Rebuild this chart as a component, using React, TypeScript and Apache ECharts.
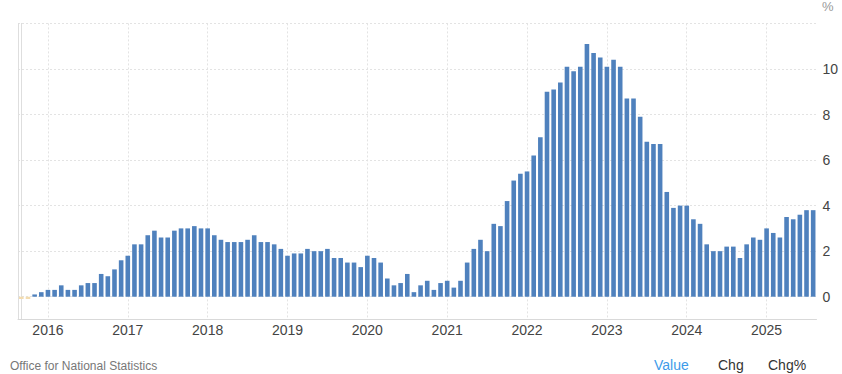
import React, { useEffect, useRef } from "react";
import * as echarts from "echarts";

// Monthly UK CPI inflation (%), Sep 2015 .. Aug 2025
const startYear = 2015;
const startMonth = 9; // September
const values2015 = [-0.1, -0.1, 0.1, 0.2];
const values2016 = [0.3, 0.3, 0.5, 0.3, 0.3, 0.5, 0.6, 0.6, 1.0, 0.9, 1.2, 1.6];
const values2017 = [1.8, 2.3, 2.3, 2.7, 2.9, 2.6, 2.6, 2.9, 3.0, 3.0, 3.1, 3.0];
const values2018 = [3.0, 2.7, 2.5, 2.4, 2.4, 2.4, 2.5, 2.7, 2.4, 2.4, 2.3, 2.1];
const values2019 = [1.8, 1.9, 1.9, 2.1, 2.0, 2.0, 2.1, 1.7, 1.7, 1.5, 1.5, 1.3];
const values2020 = [1.8, 1.7, 1.5, 0.8, 0.5, 0.6, 1.0, 0.2, 0.5, 0.7, 0.3, 0.6];
const values2021 = [0.7, 0.4, 0.7, 1.5, 2.1, 2.5, 2.0, 3.2, 3.1, 4.2, 5.1, 5.4];
const values2022 = [5.5, 6.2, 7.0, 9.0, 9.1, 9.4, 10.1, 9.9, 10.1, 11.1, 10.7, 10.5];
const values2023 = [10.1, 10.4, 10.1, 8.7, 8.7, 7.9, 6.8, 6.7, 6.7, 4.6, 3.9, 4.0];
const values2024 = [4.0, 3.4, 3.2, 2.3, 2.0, 2.0, 2.2, 2.2, 1.7, 2.3, 2.6, 2.5];
const values2025 = [3.0, 2.8, 2.6, 3.5, 3.4, 3.6, 3.8, 3.8];

const values = [
  ...values2015, ...values2016, ...values2017, ...values2018, ...values2019,
  ...values2020, ...values2021, ...values2022, ...values2023, ...values2024, ...values2025,
];

// categories: "YYYY-MM"
const categories: string[] = values.map((_, i) => {
  const m0 = startMonth - 1 + i;
  const y = startYear + Math.floor(m0 / 12);
  const m = (m0 % 12) + 1;
  return `${y}-${m < 10 ? "0" + m : m}`;
});

const yTickValues = [0, 2, 4, 6, 8, 10, 12];
const yLabelValues = [0, 2, 4, 6, 8, 10];
const sourceText = "Office for National Statistics";
const unitText = "%";
const tabs = ["Value", "Chg", "Chg%"];

export default function App() {
  const ref = useRef<HTMLDivElement>(null);
  useEffect(() => {
    if (!ref.current) return;
    const chart = echarts.init(ref.current, null, { renderer: "svg" });
    const janIdx = categories
      .map((c, i) => (c.endsWith("-01") ? i : -1))
      .filter((i) => i >= 0);
    const font = "Arial, 'Liberation Sans', sans-serif";
    chart.setOption({
      animation: false,
      textStyle: { fontFamily: font },
      grid: { left: 18, right: 25.5, top: 23.4, bottom: 54.5, containLabel: false },
      xAxis: {
        type: "value",
        min: -0.5,
        max: categories.length - 0.5,
        axisLine: { show: true, onZero: false, lineStyle: { color: "#d9d9d9", width: 1 } },
        axisTick: { show: false, customValues: janIdx },
        axisLabel: {
          customValues: janIdx,
          formatter: (v: number) => categories[Math.round(v)]?.slice(0, 4) ?? "",
          color: "#444",
          fontSize: 14,
          margin: 3,
          fontFamily: font,
        },
        splitLine: { show: true, lineStyle: { color: "#e3e3e3", type: [2, 2], width: 1 } },
      },
      yAxis: [
        {
          type: "value",
          position: "right",
          min: -1,
          max: 12,
          axisLine: { show: true, lineStyle: { color: "#dedede", width: 1 } },
          axisTick: { show: false, customValues: yTickValues },
          axisLabel: {
            customValues: yLabelValues,
            color: "#444",
            fontSize: 14,
            margin: 6,
            fontFamily: font,
          },
          splitLine: { show: true, lineStyle: { color: "#e3e3e3", type: [2, 2], width: 1 } },
        },
        {
          type: "value",
          position: "left",
          min: -1,
          max: 12,
          axisLine: { show: true, lineStyle: { color: "#dedede", width: 1 } },
          axisTick: { show: false },
          axisLabel: { show: false },
          splitLine: { show: false },
        },
      ],
      series: [
        {
          type: "bar",
          yAxisIndex: 0,
          barWidth: 4.6,
          data: values.map((v, i) => ({
            value: [i, v],
            itemStyle: { color: v < 0 ? "#f3dcb0" : "#4f81bd" },
          })),
        },
      ],
      graphic: [
        {
          type: "text",
          left: 822,
          top: 0,
          style: { text: unitText, fill: "#999", fontSize: 13, fontFamily: font },
        },
        {
          type: "text",
          left: 10,
          top: 360,
          style: { text: sourceText, fill: "#777", fontSize: 12, fontFamily: font },
        },
        {
          type: "text",
          left: 654,
          top: 358,
          style: { text: tabs[0], fill: "#3d9be9", fontSize: 14, fontFamily: font },
        },
        {
          type: "text",
          left: 718,
          top: 358,
          style: { text: tabs[1], fill: "#333", fontSize: 14, fontFamily: font },
        },
        {
          type: "text",
          left: 768,
          top: 358,
          style: { text: tabs[2], fill: "#333", fontSize: 14, fontFamily: font },
        },
      ],
    });
    return () => chart.dispose();
  }, []);
  return (
    <div
      ref={ref}
      style={{ position: "fixed", left: 0, top: 0, width: 842, height: 374, background: "#fff" }}
    />
  );
}
